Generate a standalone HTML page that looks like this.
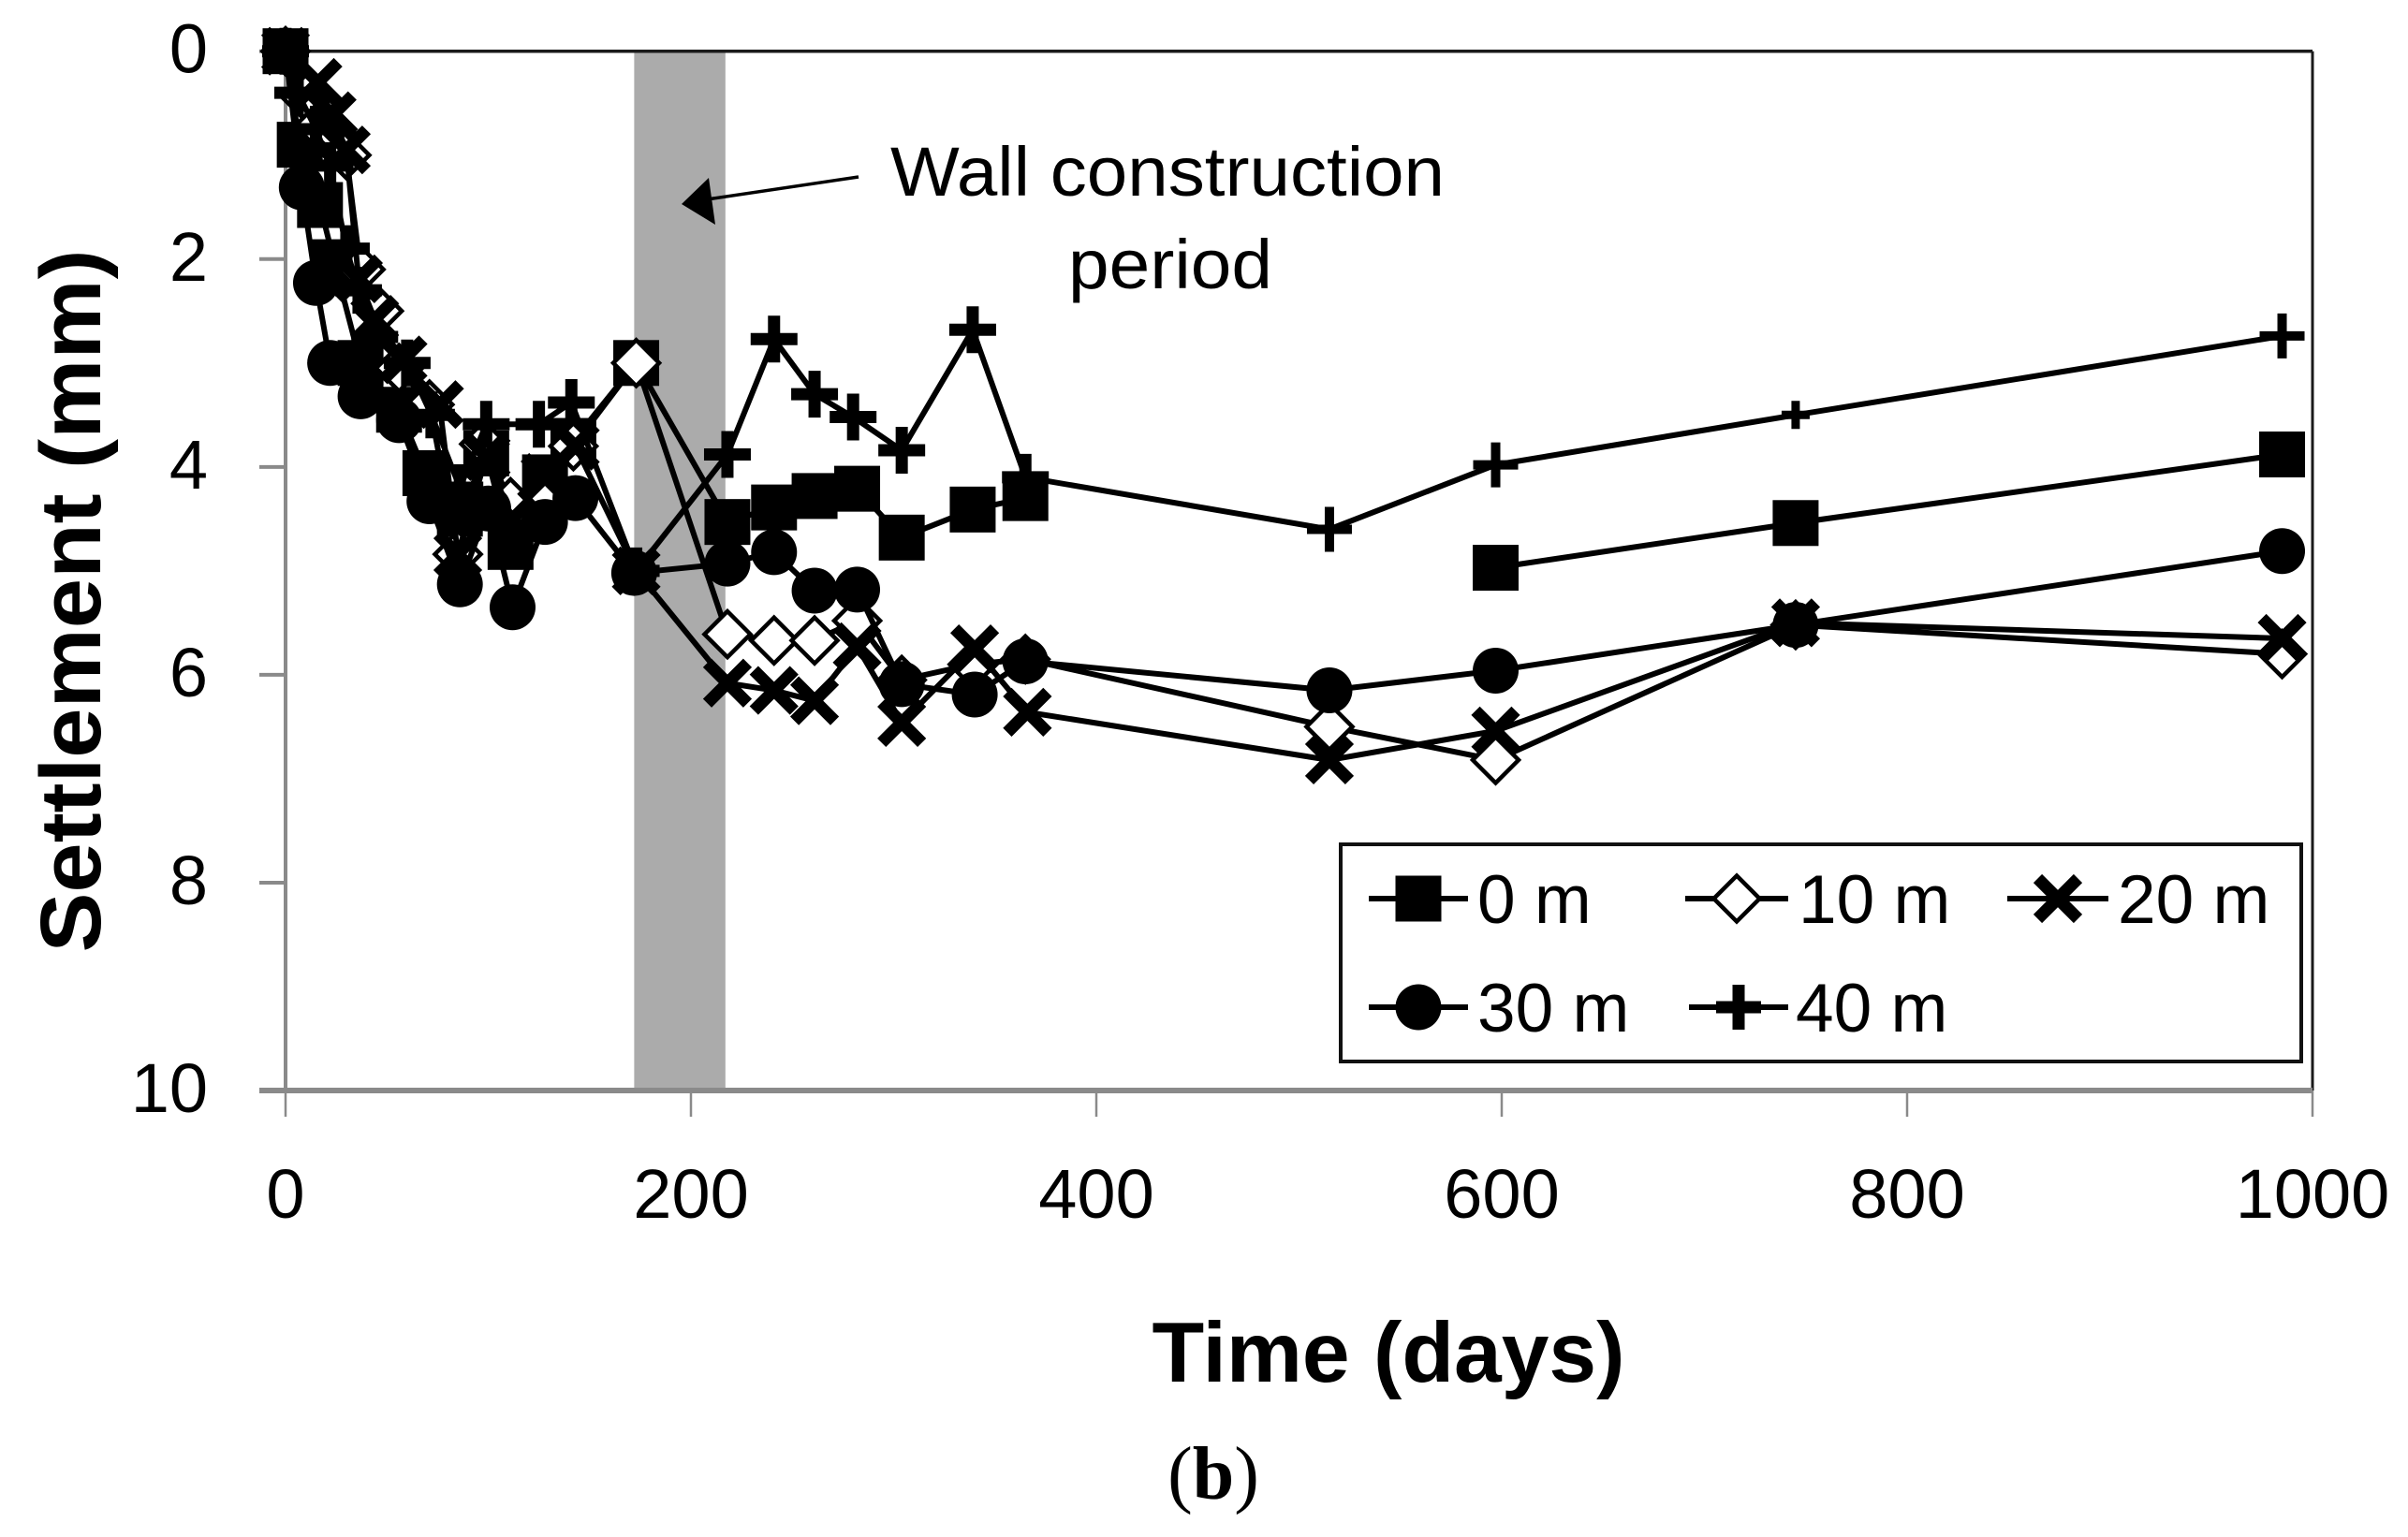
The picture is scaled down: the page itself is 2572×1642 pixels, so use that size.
<!DOCTYPE html>
<html>
<head>
<meta charset="utf-8">
<title>Settlement over time</title>
<style>
  html, body { margin: 0; padding: 0; background: #fff; }
  svg { display: block; }
  text { font-family: "Liberation Sans", sans-serif; fill: #000; }
</style>
</head>
<body>
<svg id="chart" xmlns="http://www.w3.org/2000/svg" width="2572" height="1642" viewBox="0 0 2572 1642">
  <rect x="0" y="0" width="2572" height="1642" fill="#fff"/>
  <g id="band-layer"></g>
  <g id="axis-layer"></g>
  <g id="series-layer"></g>
  <g id="annotation-layer">
    <text x="1247" y="209" font-size="74" text-anchor="middle" textLength="592" lengthAdjust="spacingAndGlyphs">Wall construction</text>
    <text x="1250" y="308" font-size="74" text-anchor="middle" textLength="218" lengthAdjust="spacingAndGlyphs">period</text>
    <line x1="917" y1="189" x2="755" y2="213" stroke="#000" stroke-width="3.5"/>
    <polygon points="728,218 757,190 764,240" fill="#000"/>
  </g>
  <g id="legend-layer"></g>
  <text transform="translate(107,642) rotate(-90)" font-size="92" font-weight="bold" text-anchor="middle" textLength="751" lengthAdjust="spacingAndGlyphs">Settlement (mm)</text>
  <text x="1483" y="1476" font-size="91" font-weight="bold" text-anchor="middle" textLength="505" lengthAdjust="spacingAndGlyphs">Time (days)</text>
  <text x="1296" y="1601" font-size="80" text-anchor="middle" style="font-family:'Liberation Serif',serif">(<tspan font-weight="bold">b</tspan>)</text>
</svg>
<script>
// ---- chart data ----
const xTicks = [0, 200, 400, 600, 800, 1000];
const yTicks = [0, 2, 4, 6, 8, 10];
const wallPeriod = [172, 217];

const seriesNames = ['0 m', '10 m', '20 m', '30 m', '40 m'];

const days0 = [0, 7, 17, 24, 37, 56, 69, 86, 99, 111, 128, 142, 173, 218, 241, 261, 282, 304, 339, 365, 515, 597, 745, 985];
const settle0 = [0, 0.9, 1.48, 2.03, 3.0, 3.45, 4.06, 4.45, 3.87, 4.77, 4.1, 3.75, 3.0, 4.53, 4.39, 4.28, 4.21, 4.68, 4.41, 4.3, null, 4.97, 4.54, 3.88];

const days10 = [0, 10, 16, 23, 30, 37, 46, 56, 71, 85, 98, 111, 127, 142, 173, 218, 241, 261, 282, 304, 339, 365, 515, 597, 745, 985];
const settle10 = [0, 0.45, 0.72, 0.75, 1.0, 2.1, 2.5, 3.05, 3.4, 4.84, 3.78, 4.34, 4.26, 3.8, 3.0, 5.61, 5.67, 5.67, 5.48, 6.05, 5.9, 5.85, 6.5, 6.82, 5.52, 5.8];

const days20 = [0, 16, 23, 30, 36, 44, 58, 76, 85, 99, 112, 128, 143, 173, 218, 241, 261, 282, 304, 340, 366, 515, 597, 745, 985];
const settle20 = [0, 0.3, 0.62, 0.95, 2.19, 2.58, 2.97, 3.4, 4.84, 3.9, 4.5, 4.1, 3.8, 5.0, 6.08, 6.15, 6.25, 5.73, 6.46, 5.75, 6.36, 6.82, 6.54, 5.5, 5.65];

const days30 = [0, 8, 15, 22, 37, 56, 71, 86, 100, 112, 128, 143, 172, 218, 241, 261, 282, 304, 340, 365, 515, 597, 745, 985];
const settle30 = [0, 1.31, 2.23, 3.0, 3.32, 3.55, 4.33, 5.13, 4.4, 5.35, 4.53, 4.3, 5.02, 4.93, 4.82, 5.19, 5.18, 6.09, 6.19, 5.87, 6.15, 5.96, 5.52, 4.81];

const days40 = [0, 6, 15, 22, 30, 36, 44, 60, 72, 86, 99, 125, 141, 173, 218, 241, 261, 280, 304, 339, 365, 515, 597, 745, 985];
const settle40 = [0, 0.4, 0.75, 1.1, 1.9, 2.3, 2.75, 3.0, 3.5, 4.2, 3.59, 3.59, 3.38, 5.0, 3.88, 2.77, 3.3, 3.52, 3.84, 2.68, 4.1, 4.6, 3.98, 3.5, 2.74];

// ---- layout ----
const NS = 'http://www.w3.org/2000/svg';
const plot = { left: 305, right: 2470, top: 54.7, bottom: 1165 };
const xMax = 1000;
const yMax = 10;
const markerSize = 49;
const INK = '#000';
const AXIS_GRAY = '#8a8a8a';

function xScale(d) { return plot.left + (d / xMax) * (plot.right - plot.left); }
function yScale(v) { return plot.top + (v / yMax) * (plot.bottom - plot.top); }

function make(tag, attrs, parent) {
  const el = document.createElementNS(NS, tag);
  for (const k in attrs) el.setAttribute(k, attrs[k]);
  parent.appendChild(el);
  return el;
}

const bandLayer = document.getElementById('band-layer');
const axisLayer = document.getElementById('axis-layer');
const seriesLayer = document.getElementById('series-layer');
const legendLayer = document.getElementById('legend-layer');

// ---- wall construction band ----
const band = make('rect', {
  x: xScale(wallPeriod[0]), y: plot.top,
  width: xScale(wallPeriod[1]) - xScale(wallPeriod[0]),
  height: plot.bottom - plot.top, fill: '#ababab'
}, bandLayer);



// ---- axes ----
const frameTop = make('line', { x1: plot.left, y1: plot.top, x2: plot.right, y2: plot.top, stroke: '#1a1a1a', 'stroke-width': 3.5 }, axisLayer);



const frameRight = make('line', { x1: plot.right, y1: plot.top, x2: plot.right, y2: plot.bottom, stroke: '#1a1a1a', 'stroke-width': 3 }, axisLayer);



const yAxisLine = make('line', { x1: plot.left, y1: plot.top, x2: plot.left, y2: plot.bottom, stroke: AXIS_GRAY, 'stroke-width': 4 }, axisLayer);



const xAxisLine = make('line', { x1: plot.left, y1: plot.bottom, x2: plot.right, y2: plot.bottom, stroke: AXIS_GRAY, 'stroke-width': 6 }, axisLayer);



xTicks.forEach(function (t) {
  const tick = make('line', { x1: xScale(t), y1: plot.bottom, x2: xScale(t), y2: 1193, stroke: AXIS_GRAY, 'stroke-width': 2.5 }, axisLayer);
  
  
  const label = make('text', { x: xScale(t), y: 1301, 'font-size': 74, 'text-anchor': 'middle' }, axisLayer);
  label.textContent = String(t);
  
  
});

yTicks.forEach(function (v) {
  const tick = make('line', { x1: 277, y1: yScale(v), x2: plot.left, y2: yScale(v), stroke: AXIS_GRAY, 'stroke-width': v === yMax ? 6 : 4 }, axisLayer);
  
  
  const label = make('text', { x: 222, y: yScale(v) + 23, 'font-size': 74, 'text-anchor': 'end' }, axisLayer);
  label.textContent = String(v);
  
  
});

// ---- markers ----
function drawMarker(kind, cx, cy, parent, opts) {
  const o = opts || {};
  const s = o.size || markerSize;
  const h = s / 2;
  if (kind === 'square') {
    make('rect', { x: cx - h, y: cy - h, width: s, height: s, fill: INK }, parent);
  } else if (kind === 'diamond') {
    make('polygon', {
      points: cx + ',' + (cy - h) + ' ' + (cx + h) + ',' + cy + ' ' + cx + ',' + (cy + h) + ' ' + (cx - h) + ',' + cy,
      fill: '#fff', stroke: INK, 'stroke-width': 4.5
    }, parent);
  } else if (kind === 'x') {
    const d = h - 3;
    make('path', {
      d: 'M' + (cx - d) + ' ' + (cy - d) + 'L' + (cx + d) + ' ' + (cy + d) + 'M' + (cx - d) + ' ' + (cy + d) + 'L' + (cx + d) + ' ' + (cy - d),
      stroke: INK, 'stroke-width': 13, fill: 'none'
    }, parent);
  } else if (kind === 'circle') {
    make('circle', { cx: cx, cy: cy, r: h, fill: INK }, parent);
  } else if (kind === 'plus') {
    const w = o.stroke || 13;
    make('path', {
      d: 'M' + (cx - h) + ' ' + cy + 'L' + (cx + h) + ' ' + cy + 'M' + cx + ' ' + (cy - h) + 'L' + cx + ' ' + (cy + h),
      stroke: INK, 'stroke-width': w, fill: 'none'
    }, parent);
  }
}

// ---- series ----
const markerKinds = ['square', 'diamond', 'x', 'circle', 'plus'];
const allDays = [days0, days10, days20, days30, days40];
const allSettle = [settle0, settle10, settle20, settle30, settle40];

function plusStyle(day) {
  if (day === 745) return { size: 30, stroke: 9 };
  if (day > 500) return { size: 48, stroke: 10 };
  return { size: 50, stroke: 13 };
}

seriesNames.forEach(function (name, i) {
  const kebab = name.replace(' ', '-');
  const g = make('g', {}, seriesLayer);
  
  

  const days = allDays[i];
  const vals = allSettle[i];
  let path = '';
  let pen = false;
  days.forEach(function (d, j) {
    if (vals[j] === null) { pen = false; return; }
    path += (pen ? 'L' : 'M') + xScale(d) + ' ' + yScale(vals[j]);
    pen = true;
  });
  const line = make('path', { d: path, fill: 'none', stroke: INK, 'stroke-width': 6, 'stroke-linejoin': 'round' }, g);
  
  

  days.forEach(function (d, j) {
    if (vals[j] === null) return;
    const mg = make('g', {}, g);
    
    
    const opts = markerKinds[i] === 'plus' ? plusStyle(d) : null;
    drawMarker(markerKinds[i], xScale(d), yScale(vals[j]), mg, opts);
  });
});

// ---- legend ----
const legendBox = make('rect', { x: 1432, y: 902, width: 1026, height: 232, fill: '#fff', stroke: '#111', 'stroke-width': 4 }, legendLayer);



const legendColumns = [[1462, 1568, 1578], [1800, 1910, 1921], [2144, 2252, 2262], [1462, 1568, 1578], [1804, 1910, 1918]];
const legendRows = [960, 960, 960, 1076, 1076];

seriesNames.forEach(function (name, i) {
  const c = legendColumns[i];
  const y = legendRows[i];
  const g = make('g', {}, legendLayer);
  
  
  make('line', { x1: c[0], y1: y, x2: c[1], y2: y, stroke: INK, 'stroke-width': 6 }, g);
  drawMarker(markerKinds[i], (c[0] + c[1]) / 2, y, g, markerKinds[i] === 'plus' ? { size: 48, stroke: 13 } : null);
  const t = make('text', { x: c[2], y: y + 26, 'font-size': 73 }, g);
  t.textContent = name;
  
  
});
</script>
</body>
</html>
